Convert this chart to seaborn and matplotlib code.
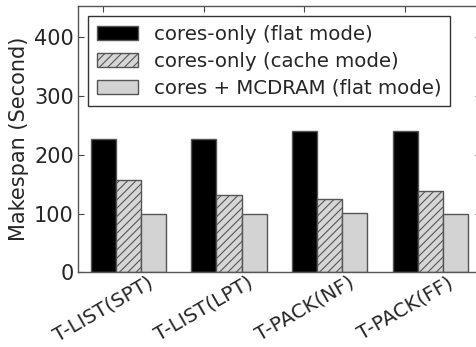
import numpy as np
import pandas as pd
import matplotlib
matplotlib.use("Agg")
import matplotlib.pyplot as plt
import seaborn as sns

categories = ["T-LIST(SPT)", "T-LIST(LPT)", "T-PACK(NF)", "T-PACK(FF)"]
series_names = ["cores-only (flat mode)", "cores-only (cache mode)", "cores + MCDRAM (flat mode)"]
flat_only = [226, 227, 240, 240]
cache_only = [157, 131, 124, 138]
mcdram_flat = [99, 100, 101.5, 99]
y_ticks = [0, 100, 200, 300, 400]

sns.set_style("white")
plt.rcParams["font.family"] = ["DejaVu Sans"]
plt.rcParams["hatch.color"] = "#555555"
plt.rcParams["hatch.linewidth"] = 0.8

rows = []
for name, vals in zip(series_names, [flat_only, cache_only, mcdram_flat]):
    for c, v in zip(categories, vals):
        rows.append({"method": c, "config": name, "value": v})
df = pd.DataFrame(rows)

fig = plt.figure(figsize=(4.76, 3.47), dpi=100)
ax = fig.add_axes([78 / 476, 74.7 / 347, 402.6 / 476, 266.3 / 347])

palette = ["#000000", "#d6d6d6", "#d3d3d3"]
sns.barplot(data=df, x="method", y="value", hue="config", palette=palette,
            edgecolor="#555555", linewidth=1.0, errorbar=None, ax=ax,
            hue_order=series_names, order=categories, width=0.75)

for p in ax.containers[1].patches:
    p.set_hatch("////")

if ax.legend_ is not None:
    ax.legend_.remove()
leg = ax.legend(handles=list(ax.containers), labels=series_names, loc="upper left",
                fontsize=14.2, frameon=True, fancybox=False, borderpad=0.45,
                labelspacing=0.4, handlelength=2.1, handletextpad=0.8,
                borderaxespad=0.5, bbox_to_anchor=(0.0, 1.0))
leg.get_frame().set_edgecolor("#333333")
leg.get_frame().set_linewidth(1.0)
leg.get_frame().set_alpha(1.0)

ax.set_ylim(0, 453)
ax.set_xlim(-0.5, 3.5)
ax.set_yticks(y_ticks)
ax.set_yticklabels([str(t) for t in y_ticks], fontsize=15)
ax.set_xticks(np.arange(len(categories)) - 0.25)
ax.set_xticklabels(categories, rotation=30, ha="center", fontsize=14.3)
ax.set_xlabel("")
ax.set_ylabel("Makespan (Second)", fontsize=15, labelpad=4)

ax.tick_params(direction="in", length=4, width=0.8, color="#444444",
               top=True, right=True, bottom=True, left=True, pad=3)
ax.tick_params(axis="x", pad=0.5)
for s in ax.spines.values():
    s.set_visible(True)
    s.set_color("#555555")
    s.set_linewidth(1.0)

fig.savefig("out.png", dpi=100)
